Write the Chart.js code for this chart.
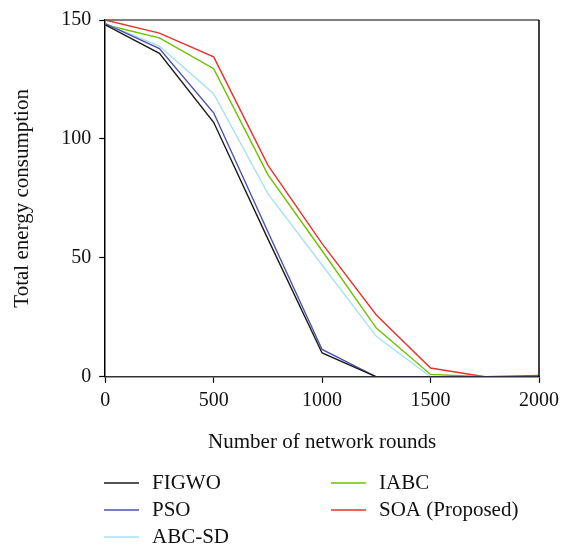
<!doctype html>
<html>
<head>
<script src="https://cdn.jsdelivr.net/npm/chart.js"></script>
<style>
	body { margin: 0; background: #fff; }
	#wrap { width: 570px; height: 550px; }
</style>
</head>
<body>
<div id="wrap"><canvas id="energy-chart"></canvas></div>
<script>
	/*--------data-----------------------------*/
	var rounds = [0, 250, 500, 750, 1000, 1250, 1500, 1750, 2000];
	var figwo  = [148, 136, 107, 58, 10, 0, 0, 0, 0];
	var pso    = [148.5, 138, 111, 61, 11.5, 0, 0, 0, 0];
	var abcsd  = [148.5, 139, 119, 77, 47, 17, 0, 0, 0];
	var iabc   = [148, 142.5, 129.5, 85, 53, 20.5, 1, 0, 0];
	var soa    = [150, 144.5, 134.5, 89, 56, 26, 3.7, 0, 0.6];

	var seriesNames  = ['FIGWO', 'PSO', 'ABC-SD', 'IABC', 'SOA (Proposed)'];
	var seriesValues = [figwo, pso, abcsd, iabc, soa];
	var seriesColors = ['#1a1a1a', '#4d50b0', '#a6e2f0', '#6cc000', '#e8322b'];
	var xTicks = [0, 500, 1000, 1500, 2000];
	var yTicks = [0, 50, 100, 150];

	var serif = "'Liberation Serif', 'DejaVu Serif', serif";

	var datasets = seriesNames.map(function (name, i) {
		return {
			label: name,
			data: rounds.map(function (r, j) { return {x: r, y: seriesValues[i][j]}; }),
			borderColor: seriesColors[i],
			backgroundColor: seriesColors[i],
			borderWidth: 1.4,
			pointRadius: 0,
			fill: false,
			tension: 0
		};
	});

	// box round the plot + two-column legend under the chart
	var boxAndLegend = {
		id: 'boxAndLegend',
		afterDraw: function (chart) {
			var ctx = chart.ctx, a = chart.chartArea;
			ctx.save();
			ctx.lineWidth = 1.5;
			ctx.strokeStyle = '#555';
			ctx.beginPath(); ctx.moveTo(a.left, a.top); ctx.lineTo(a.right, a.top); ctx.stroke();
			ctx.strokeStyle = '#000';
			ctx.beginPath(); ctx.moveTo(a.right, a.top); ctx.lineTo(a.right, a.bottom); ctx.stroke();

			var cols = [104, 331], rows = [483, 510, 537];
			ctx.font = '21px ' + serif;
			ctx.textBaseline = 'middle';
			ctx.fillStyle = '#111';
			chart.data.datasets.forEach(function (ds, i) {
				var c = i < 3 ? 0 : 1, r = i < 3 ? i : i - 3;
				var x = cols[c], y = rows[r];
				ctx.strokeStyle = ds.borderColor;
				ctx.lineWidth = 1.6;
				ctx.beginPath(); ctx.moveTo(x, y); ctx.lineTo(x + 35, y); ctx.stroke();
				ctx.fillText(ds.label, x + 48, y);
			});
			ctx.restore();
		}
	};

	var plain = function (v) { return String(v); };

	var energyChart = new Chart(document.getElementById('energy-chart'), {
		type: 'line',
		data: { datasets: datasets },
		options: {
			responsive: true,
			maintainAspectRatio: false,
			animation: false,
			layout: { padding: { top: 3, right: 31, bottom: 95, left: 10 } },
			plugins: { legend: { display: false }, tooltip: { enabled: false } },
			scales: {
				x: {
					type: 'linear',
					min: 0, max: 2000,
					afterBuildTicks: function (s) { s.ticks = xTicks.map(function (v) { return {value: v}; }); },
					grid: { drawOnChartArea: false, tickLength: 6, tickColor: '#000', tickWidth: 1.2 },
					border: { color: '#333', width: 1.5 },
					ticks: { color: '#111', font: { family: serif, size: 20 }, padding: 6, maxRotation: 0, callback: plain },
					title: { display: true, text: 'Number of network rounds', color: '#111',
						font: { family: serif, size: 21 }, padding: { top: 11, bottom: 0 } }
				},
				y: {
					min: 0, max: 150,
					afterBuildTicks: function (s) { s.ticks = yTicks.map(function (v) { return {value: v}; }); },
					grid: { drawOnChartArea: false, tickLength: 6, tickColor: '#000', tickWidth: 1.2 },
					border: { color: '#000', width: 1.5 },
					ticks: { color: '#111', font: { family: serif, size: 20 }, padding: 8, callback: plain },
					title: { display: true, text: 'Total energy consumption', color: '#111',
						font: { family: serif, size: 21 }, padding: { top: 0, bottom: 18 } }
				}
			}
		},
		plugins: [boxAndLegend]
	});
</script>
</body>
</html>
